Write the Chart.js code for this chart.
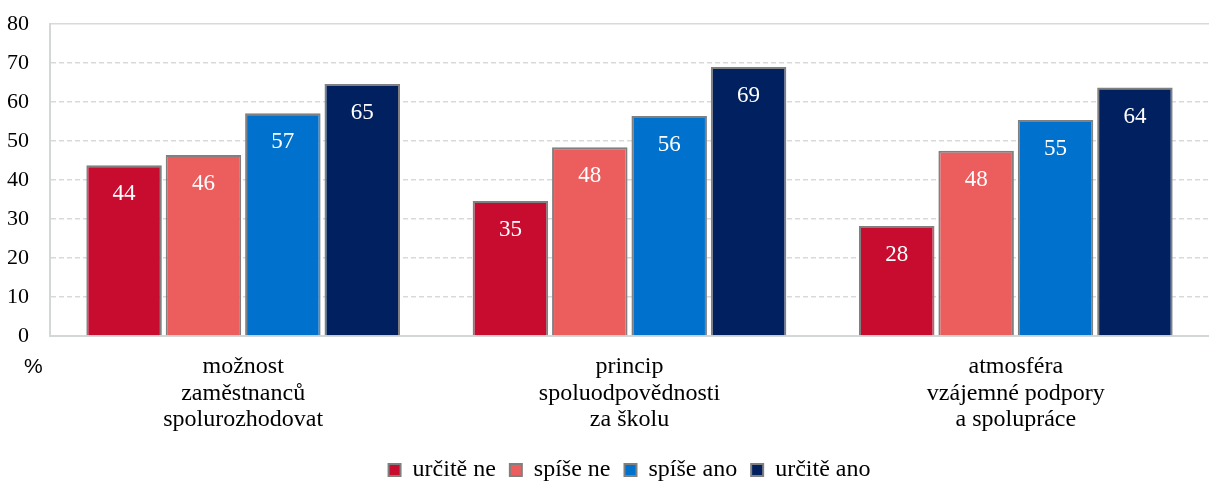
<!DOCTYPE html>
<html>
<head>
<meta charset="utf-8">
<script src="https://cdn.jsdelivr.net/npm/chart.js@4.4.0/dist/chart.umd.min.js"></script>
<style>
  html, body { margin: 0; padding: 0; background: #fff; }
  #wrap { width: 1209px; height: 483px; position: relative; }
</style>
</head>
<body>
<div id="wrap"><canvas id="chart"></canvas></div>
<script>
const categories = [
    ['možnost', 'zaměstnanců', 'spolurozhodovat'],
    ['princip', 'spoluodpovědnosti', 'za školu'],
    ['atmosféra', 'vzájemné podpory', 'a spolupráce']
];
const seriesNames = ['určitě ne', 'spíše ne', 'spíše ano', 'určitě ano'];
const urciteNe = [43.8, 34.6, 28.2];
const spiseNe = [46.4, 48.4, 47.5];
const spiseAno = [57.1, 56.4, 55.4];
const urciteAno = [64.6, 69.0, 63.7];
const yTicks = [0, 10, 20, 30, 40, 50, 60, 70, 80];

const colors = ['#C80C30', '#EC5E5E', '#0072CE', '#002060'];
const serif = '"Liberation Serif", "Times New Roman", serif';

// white value labels inside the top of each bar
const barLabels = {
    id: 'barLabels',
    afterDatasetsDraw(chart) {
        const ctx = chart.ctx;
        ctx.save();
        ctx.font = '23px ' + serif;
        ctx.fillStyle = '#ffffff';
        ctx.textAlign = 'center';
        ctx.textBaseline = 'middle';
        chart.data.datasets.forEach((ds, i) => {
            const meta = chart.getDatasetMeta(i);
            meta.data.forEach((bar, j) => {
                ctx.fillText(Math.round(ds.data[j]), bar.x, bar.y + 29);
            });
        });
        ctx.restore();
    }
};

// "%" unit under the y axis
const unitLabel = {
    id: 'unitLabel',
    afterDraw(chart) {
        const ctx = chart.ctx;
        const area = chart.chartArea;
        ctx.save();
        ctx.font = '21px "Liberation Sans", Arial, sans-serif';
        ctx.fillStyle = '#000';
        ctx.textAlign = 'left';
        ctx.textBaseline = 'middle';
        ctx.fillText('%', area.left - 26, area.bottom + 31);
        ctx.restore();
    }
};

const seriesData = [urciteNe, spiseNe, spiseAno, urciteAno];

new Chart(document.getElementById('chart'), {
    type: 'bar',
    data: {
        labels: categories,
        datasets: seriesData.map((values, i) => ({
            label: seriesNames[i],
            data: values,
            backgroundColor: colors[i],
            borderColor: '#808080',
            borderWidth: 2,
            categoryPercentage: 0.822,
            barPercentage: 0.951
        }))
    },
    options: {
        responsive: true,
        maintainAspectRatio: false,
        animation: false,
        layout: { padding: { top: 24, right: 0, left: 0, bottom: -9 } },
        plugins: {
            legend: {
                position: 'bottom',
                fullSize: false,
                labels: {
                    boxWidth: 12,
                    boxHeight: 12,
                    padding: 14,
                    color: '#000',
                    font: { family: serif, size: 24 }
                }
            },
            tooltip: { enabled: false }
        },
        scales: {
            x: {
                grid: { display: false },
                border: { display: true, color: '#d4d7d7', width: 2 },
                ticks: {
                    color: '#000',
                    padding: 10,
                    maxRotation: 0,
                    autoSkip: false,
                    font: { family: serif, size: 24, lineHeight: 1.1 }
                },
                afterFit(scale) { scale.height = 108; }
            },
            y: {
                min: 0,
                max: 80,
                afterBuildTicks(scale) {
                    scale.ticks = yTicks.map(v => ({ value: v }));
                },
                grid: {
                    color: '#d9d9d9',
                    lineWidth: 1.5,
                    drawTicks: false
                },
                border: {
                    display: true,
                    color: '#d4d7d7',
                    width: 2,
                    dash: (ctx) => {
                        if (!ctx.tick) return [];
                        return (ctx.tick.value === 0 || ctx.tick.value === 80) ? [] : [5, 3];
                    }
                },
                ticks: {
                    color: '#000',
                    padding: 21,
                    font: { family: serif, size: 22 }
                },
                afterFit(scale) {
                    scale.width = 50;
                    scale.paddingTop = 0;
                    scale.paddingBottom = 0;
                }
            }
        }
    },
    plugins: [barLabels, unitLabel]
});
</script>
</body>
</html>
